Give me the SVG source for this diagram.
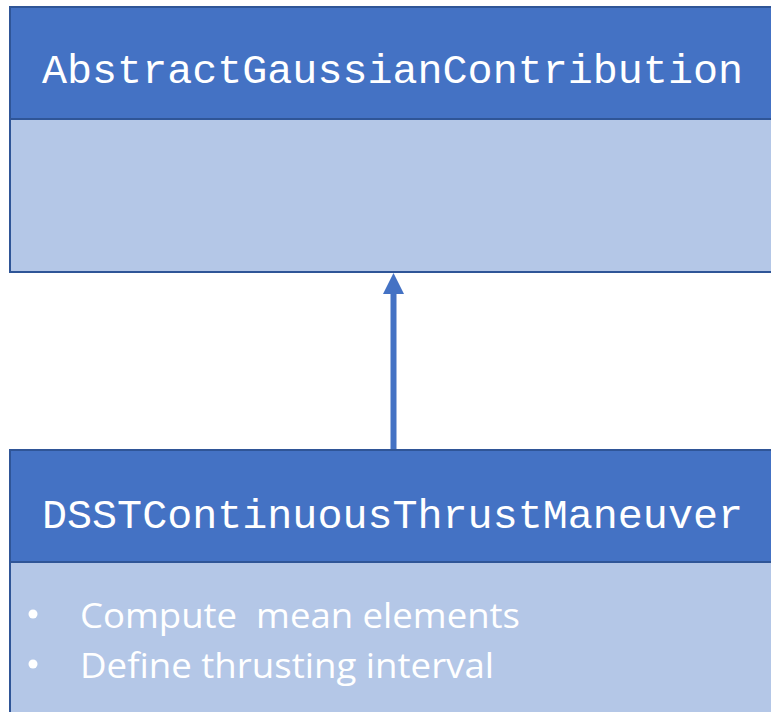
<svg xmlns="http://www.w3.org/2000/svg" width="771" height="712" viewBox="0 0 771 712">
  <style>
    .hdr { fill: #4472C4; stroke: #2F5597; stroke-width: 2; }
    .body { fill: #B4C7E7; stroke: #2F5597; stroke-width: 2; }
    .title { font-family: "Courier New", "Liberation Mono", monospace; font-size: 41px; fill: #FFFFFF; }
    .item { font-family: "Open Sans", "Liberation Sans", sans-serif; font-size: 35px; fill: #FFFFFF; }
    .dot { fill: #FFFFFF; }
  </style>

  <!-- inheritance arrow: subclass points up to its parent -->
  <g id="connectors">
    <line x1="393.5" y1="450" x2="393.5" y2="293" stroke="#4472C4" stroke-width="6"/>
    <path d="M383,294 L393.5,273 L404,294 Z" fill="#4472C4"/>
  </g>

  <g id="AbstractGaussianContribution">
    <rect class="body" x="10" y="119" width="770" height="153"/>
    <rect class="hdr" x="10" y="7" width="770" height="112"/>
    <text class="title" x="42" y="83" textLength="701" lengthAdjust="spacingAndGlyphs">AbstractGaussianContribution</text>
  </g>

  <g id="DSSTContinuousThrustManeuver">
    <rect class="body" x="10" y="562" width="770" height="160"/>
    <rect class="hdr" x="10" y="450" width="770" height="112"/>
    <text class="title" x="42" y="528" textLength="701" lengthAdjust="spacingAndGlyphs">DSSTContinuousThrustManeuver</text>
    <circle class="dot" cx="33" cy="614" r="4.5"/>
    <text class="item" x="80" y="628" textLength="440" lengthAdjust="spacingAndGlyphs" xml:space="preserve">Compute  mean elements</text>
    <circle class="dot" cx="33" cy="664" r="4.5"/>
    <text class="item" x="80" y="678" textLength="414" lengthAdjust="spacingAndGlyphs">Define thrusting interval</text>
  </g>
</svg>
